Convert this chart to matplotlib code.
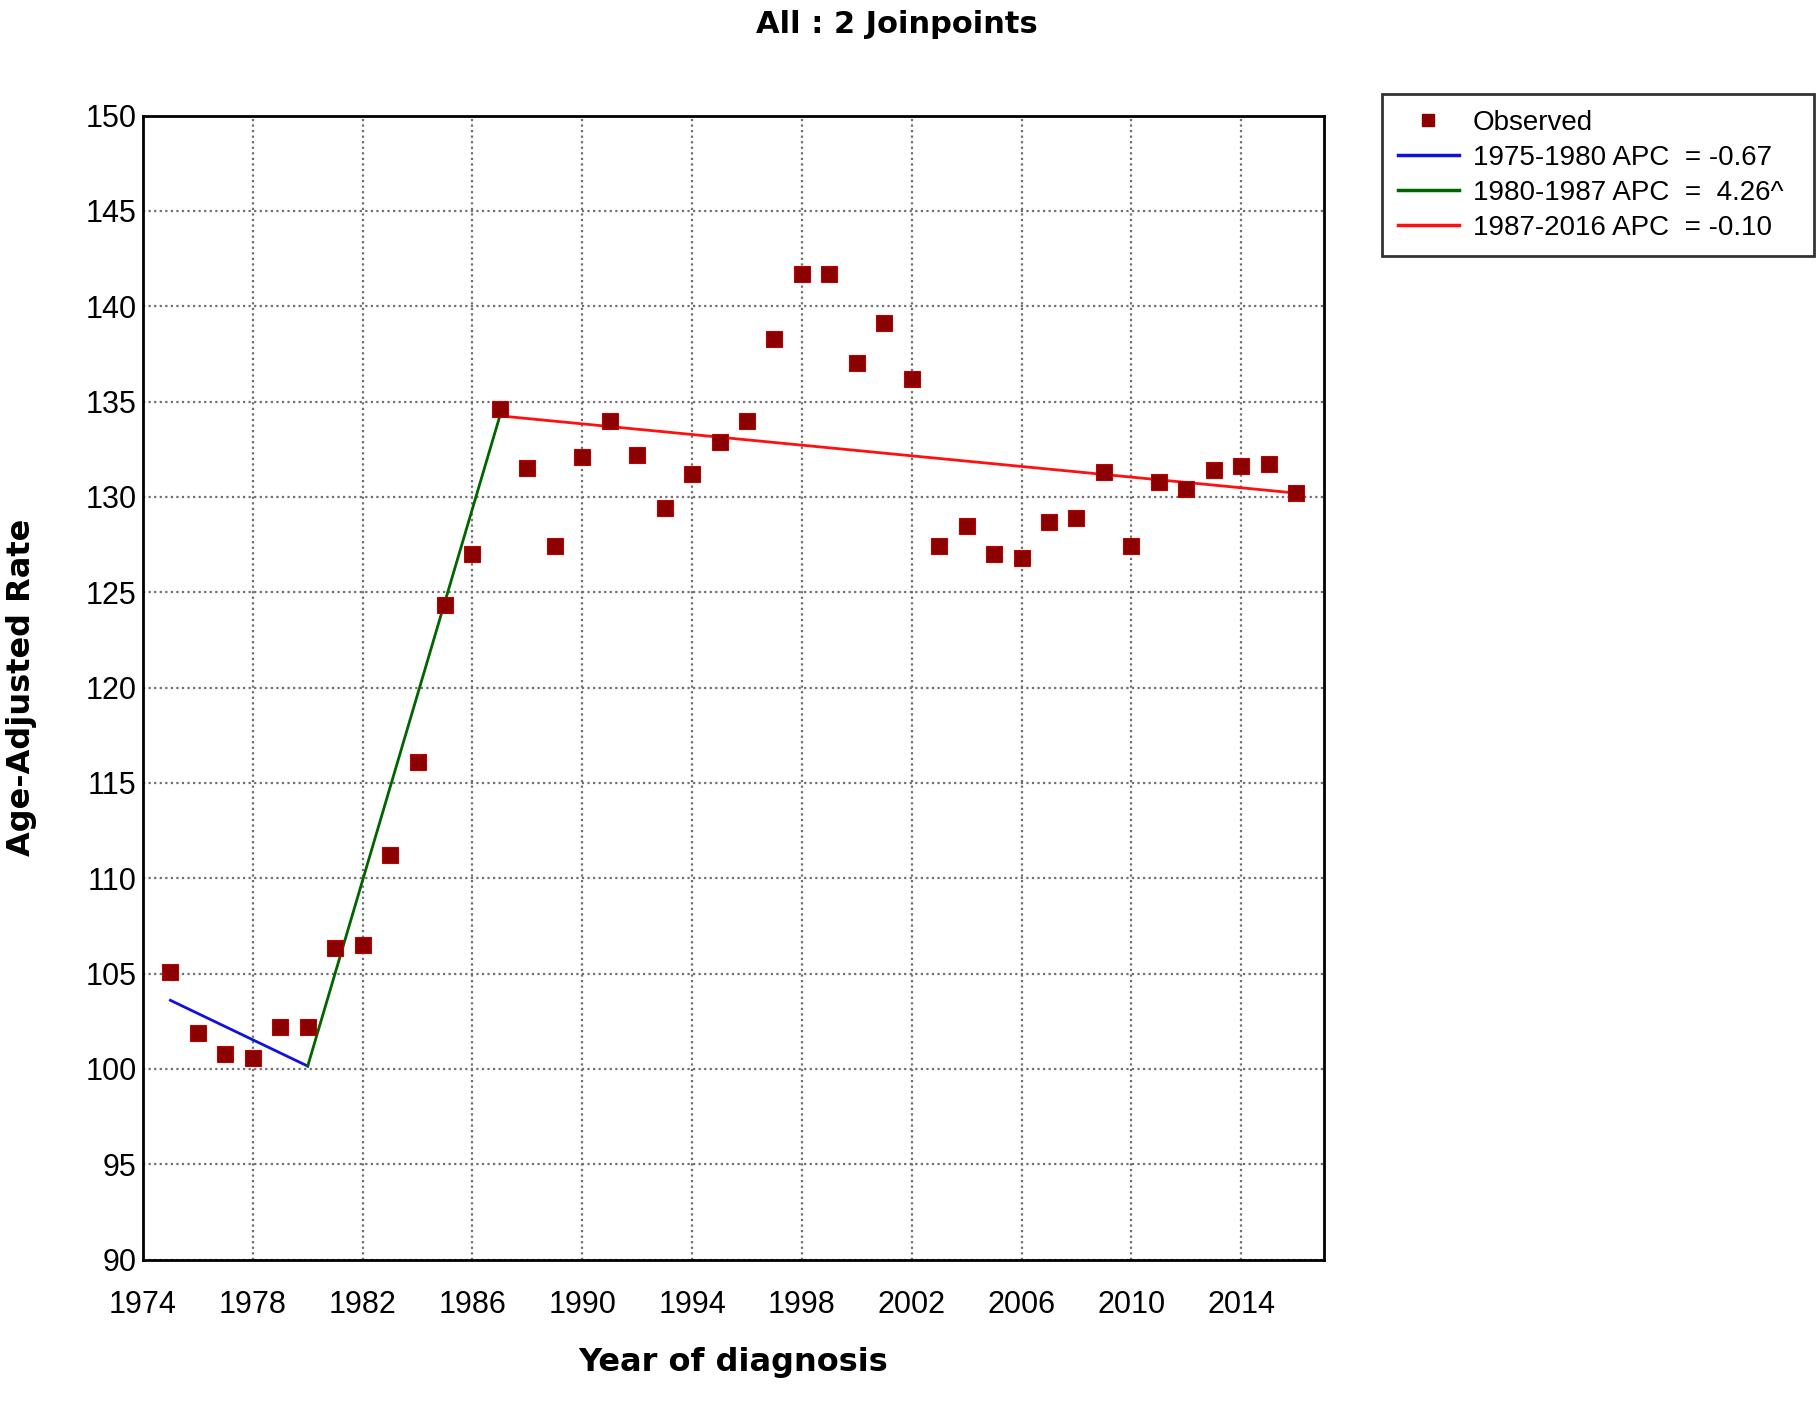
import matplotlib.pyplot as plt
from matplotlib.lines import Line2D

# observed age-adjusted rates, 1975-2016
years = list(range(1975, 2017))
observed = [
    105.1, 101.9, 100.8, 100.6, 102.2, 102.2, 106.35, 106.5, 111.2, 116.1,
    124.35, 127.0, 134.6, 131.5, 127.4, 132.1, 134.0, 132.2, 129.4, 131.2,
    132.9, 134.0, 138.3, 141.7, 141.7, 137.0, 139.1, 136.2, 127.4, 128.5,
    127.0, 126.8, 128.7, 128.9, 131.3, 127.4, 130.8, 130.4, 131.4, 131.6,
    131.7, 130.2,
]

# joinpoint segments (start/end year and fitted value)
seg_years = [[1975, 1980], [1980, 1987], [1987, 2016]]
seg_fit = [[103.6, 100.15], [100.15, 134.25], [134.25, 130.2]]
seg_colors = ["#1010e0", "#006400", "#ff1010"]
seg_labels = [
    "1975-1980 APC  = -0.67",
    "1980-1987 APC  =  4.26^",
    "1987-2016 APC  = -0.10",
]

x_ticks = list(range(1974, 2015, 4))
y_ticks = list(range(90, 151, 5))

plt.rcParams['font.family'] = ['Liberation Sans', 'DejaVu Sans']

fig = plt.figure(figsize=(18.19, 14.09), dpi=100)
ax = fig.add_axes([0.0786, 0.106, 0.649, 0.812])

ax.grid(True, color="#707070", linestyle=(0, (1, 1.5)), linewidth=1.6)
ax.set_axisbelow(True)

for xs, ys, c in zip(seg_years, seg_fit, seg_colors):
    ax.plot(xs, ys, color=c, linewidth=2, zorder=3)

ax.plot(years, observed, linestyle="none", marker="s", markersize=11,
        markerfacecolor="#8b0000", markeredgecolor="#c00000",
        markeredgewidth=0.8, zorder=4)

ax.set_xlim(1974, 2017)
ax.set_ylim(90, 150)
ax.set_xticks(x_ticks)
ax.set_yticks(y_ticks)
ax.tick_params(length=0, labelsize=22, pad=4.5)
ax.tick_params(axis="x", pad=22)

for s in ax.spines.values():
    s.set_linewidth(2)
    s.set_color("black")

ax.set_xlabel("Year of diagnosis", fontsize=23, fontweight="bold",
              family="DejaVu Sans", labelpad=19)
ax.set_ylabel("Age-Adjusted Rate", fontsize=23, fontweight="bold",
              family="DejaVu Sans")
ax.yaxis.set_label_coords(-0.090, 0.5)
fig.suptitle("All : 2 Joinpoints", x=0.493, y=0.993, fontsize=22,
             fontweight="bold", family="DejaVu Sans")

handles = [Line2D([], [], linestyle="none", marker="s", markersize=9,
                  markerfacecolor="#8b0000", markeredgecolor="#8b0000")]
handles += [Line2D([], [], color=c, linewidth=2.5) for c in seg_colors]
labels = ["Observed"] + seg_labels

leg = fig.legend(handles, labels, loc="upper left",
                 bbox_to_anchor=(0.76, 0.815, 0.237, 0.118),
                 mode="expand", fontsize=20, frameon=True, fancybox=False,
                 handlelength=2.2, handletextpad=0.5, labelspacing=0.33,
                 borderpad=0.55, borderaxespad=0)
leg.get_frame().set_edgecolor("black")
leg.get_frame().set_linewidth(2)

fig.savefig("out.png", dpi=100)
